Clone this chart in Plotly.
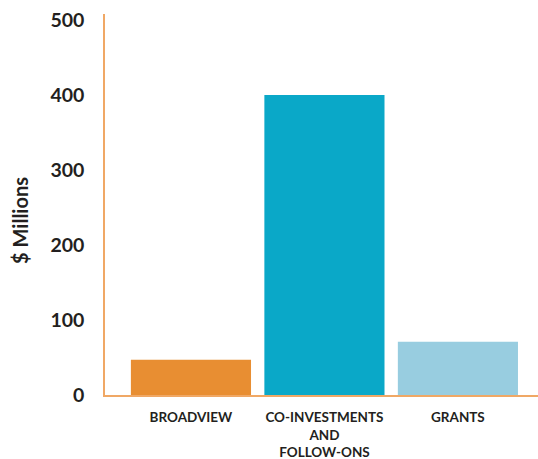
import plotly.graph_objects as go

categories = ["BROADVIEW", "CO-INVESTMENTS<br>AND<br>FOLLOW-ONS", "GRANTS"]
values = [47, 400, 71]
colors = ["#E88E32", "#0AA8C8", "#98CDE0"]
y_ticks = [0, 100, 200, 300, 400, 500]

fig = go.Figure(go.Bar(
    x=[0, 1, 2], y=values, marker=dict(color=colors, line=dict(width=0)),
    width=0.9, hoverinfo="skip",
))

fig.update_layout(
    width=538, height=459, autosize=False,
    margin=dict(l=105, r=0, t=14, b=64),
    paper_bgcolor="white", plot_bgcolor="white",
    font=dict(family="Lato", color="#231F20"),
    showlegend=False,
    xaxis=dict(
        range=[-0.644, 2.6], tickmode="array", tickvals=[0, 1, 2], ticktext=categories,
        showgrid=False, zeroline=False, showline=True, linecolor="#F0A865", linewidth=1.5,
        ticks="", tickfont=dict(size=13.5, family="Lato", weight="bold", color="#231F20"),
        ticklabelstandoff=9, automargin=False,
    ),
    yaxis=dict(
        range=[0, 508], tickmode="array", tickvals=y_ticks,
        showgrid=False, zeroline=False, showline=True, linecolor="#F0A865", linewidth=1.5,
        ticks="", tickfont=dict(size=19.5, family="Lato", weight="bold", color="#231F20"),
        ticklabelstandoff=15, automargin=False,
    ),
    annotations=[dict(
        text="$ Millions", xref="paper", yref="paper", x=-85/433, y=0.457,
        xanchor="center", yanchor="middle", textangle=-90, showarrow=False,
        font=dict(size=20, family="Lato", weight="bold", color="#231F20"),
    )],
)

fig.write_html("out.html", config={"displayModeBar": False},
               post_script="document.body.style.margin='0';")
